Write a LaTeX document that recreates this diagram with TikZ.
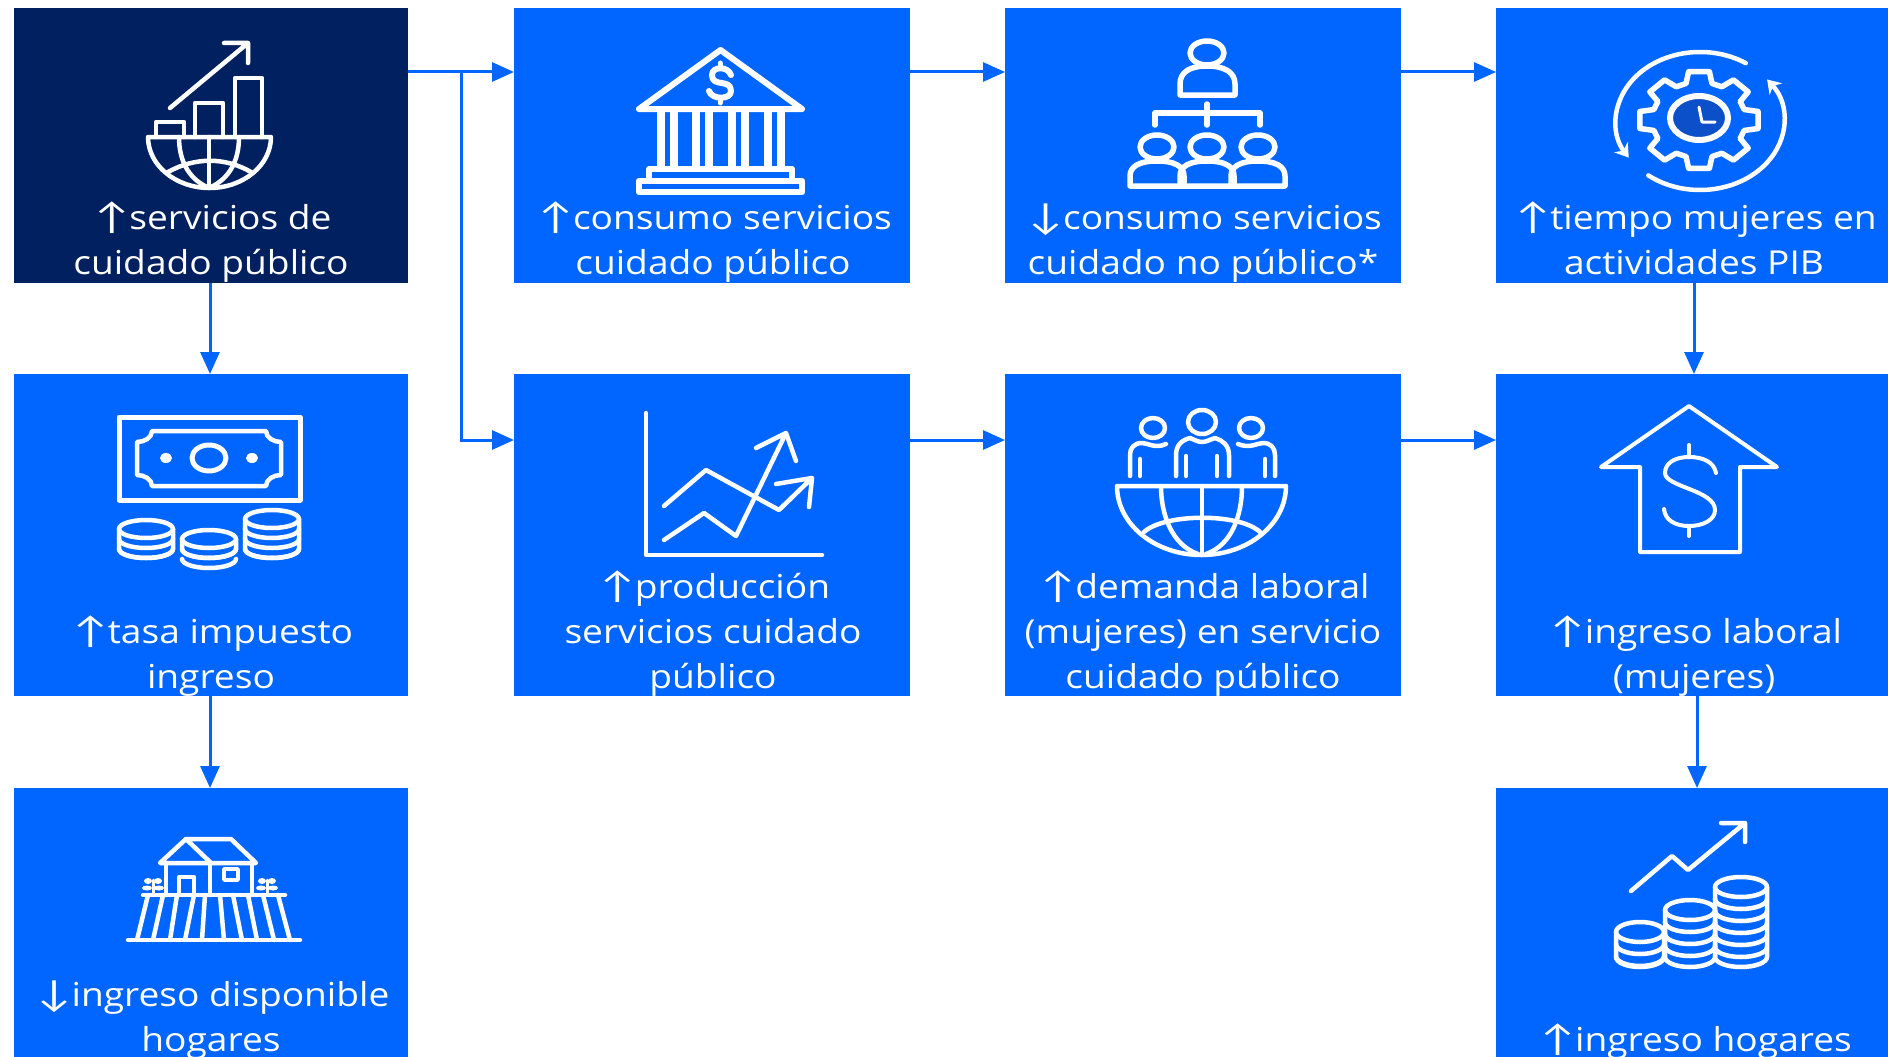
\documentclass[tikz,border=0pt]{standalone}
\usepackage{fontspec}
\usetikzlibrary{arrows.meta}
\setmainfont[FakeStretch=1.125]{Open Sans}
\newfontfamily\arrowfont[FakeStretch=1.25]{Carlito}
\definecolor{boxblue}{HTML}{0066FF}
\definecolor{navy}{HTML}{002060}
\definecolor{clockblue}{HTML}{0B4FC9}
\newcommand{\upa}{{\arrowfont\fontsize{38}{45}\selectfont ↑}\kern-4pt}
\newcommand{\dna}{{\arrowfont\fontsize{38}{45}\selectfont ↓}\kern-4pt}
\newcommand{\coinstack}[6]{% cx, top-centre y, rx, ry, bottom-centre y, layer step
  \draw[icon] (#1,#2) ellipse [x radius=#3, y radius=#4];
  \draw[icon] (#1-#3,#2) -- (#1-#3,#5) arc [start angle=180,end angle=0,x radius=#3,y radius=#4] -- (#1+#3,#2);
  \pgfmathsetmacro{\ystart}{#2+#6}
  \pgfmathsetmacro{\ynext}{#2+2*#6}
  \foreach \yy in {\ystart,\ynext,...,#5}{
    \draw[icon] (#1-#3,\yy) arc [start angle=180,end angle=0,x radius=#3,y radius=#4];
  }
}
\tikzset{
  x=1pt,y=-1pt,
  box/.style={rectangle,fill=boxblue,draw=none,inner sep=0pt,minimum width=#1,anchor=north west},
  box/.default=396pt,
  lab/.style={text=white,align=center,anchor=base,inner sep=0pt,font=\fontsize{33}{45}\selectfont},
  conn/.style={draw=boxblue,line width=3pt,-{Triangle[length=22pt,width=19pt]}},
  icon/.style={draw=white,line width=4.5pt,line join=round,line cap=round},
}
\begin{document}
\begin{tikzpicture}
\useasboundingbox (0,0) rectangle (1888,1057);
% boxes
\node[box=394pt,minimum height=275pt,fill=navy] (b1) at (14,8) {};
\node[box=396pt,minimum height=275pt] (b2) at (514,8) {};
\node[box=396pt,minimum height=275pt] (b3) at (1005,8) {};
\node[box=392pt,minimum height=275pt] (b4) at (1496,8) {};
\node[box=394pt,minimum height=322pt] (b5) at (14,374) {};
\node[box=396pt,minimum height=322pt] (b6) at (514,374) {};
\node[box=396pt,minimum height=322pt] (b7) at (1005,374) {};
\node[box=392pt,minimum height=322pt] (b8) at (1496,374) {};
\node[box=394pt,minimum height=269pt] (b9) at (14,788) {};
\node[box=392pt,minimum height=269pt] (b10) at (1496,788) {};
% routing guides
\coordinate (r1) at (0,72);
\coordinate (r2) at (0,440);
\coordinate (j) at (461,72);
\coordinate (v1) at (210,0);
\coordinate (v4) at (1694,0);
\coordinate (v8) at (1697,0);
% connectors
\draw[conn] (b1.east |- r1) -- (b2.west |- r1);
\draw[conn] (b2.east |- r1) -- (b3.west |- r1);
\draw[conn] (b3.east |- r1) -- (b4.west |- r1);
\draw[conn] (j) |- (b6.west |- r2);
\draw[conn] (b6.east |- r2) -- (b7.west |- r2);
\draw[conn] (b7.east |- r2) -- (b8.west |- r2);
\draw[conn] (b1.south -| v1) -- (b5.north -| v1);
\draw[conn] (b5.south -| v1) -- (b9.north -| v1);
\draw[conn] (b4.south -| v4) -- (b8.north -| v4);
\draw[conn] (b8.south -| v8) -- (b10.north -| v8);
% labels (anchored on the baseline of the last line)
\node[lab] (l1) at (211,274.5) {\upa servicios de\\cuidado público};
\node[lab] (l2) at (713,274.5) {\upa consumo servicios\\cuidado público};
\node[lab] (l3) at (1203,274.5) {\dna consumo servicios\\cuidado no público*};
\node[lab] (l4) at (1694,274.5) {\upa tiempo mujeres en\\actividades PIB};
\node[lab] (l5) at (211,688.5) {\upa tasa impuesto\\ingreso};
\node[lab] (l6) at (713,688.5) {\upa producción\\servicios cuidado\\público};
\node[lab] (l7) at (1203,688.5) {\upa demanda laboral\\(mujeres) en servicio\\cuidado público};
\node[lab] (l8) at (1694,688.5) {\upa ingreso laboral\\(mujeres)};
\node[lab] (l9) at (211,1051.5) {\dna ingreso disponible\\hogares};
\node[lab] (l10) at (1694,1051.5) {\upa ingreso hogares};
% icon 1: bars on globe
\draw[icon] (170,108) -- (248,43) (224,43) -- (248,43) -- (248,63);
\draw[icon] (156,137) -- (156,122) -- (184,122) -- (184,137);
\draw[icon] (195,137) -- (195,103) -- (223,103) -- (223,137);
\draw[icon] (235,137) -- (235,78) -- (262,78) -- (262,137);
\draw[icon] (148,137) -- (271,137) arc [start angle=0,end angle=180,x radius=61.5,y radius=51] -- cycle;
\draw[icon] (209,137) -- (209,188);
\draw[icon] (179,137) .. controls (179,160) and (188,178) .. (207,187);
\draw[icon] (239,137) .. controls (239,160) and (230,178) .. (211,187);
\draw[icon] (168,172) .. controls (195,157) and (225,157) .. (251,172);
% icon 2: bank
\draw[icon,line width=6pt] (639,109) -- (720.5,50) -- (802,109) -- cycle;
\foreach \xa/\xb in {661/674,696/709,732/745,768/781}{
  \draw[icon,line width=8pt,line cap=butt] (\xa,112) -- (\xa,166) (\xb,112) -- (\xb,166);
}
\draw[icon,line width=6pt] (649,178) -- (649,169) -- (792,169) -- (792,178);
\draw[icon,line width=6.5pt] (639,181) rectangle (802,192);
\draw[icon,line width=6pt] (731,75) .. controls (728,66) and (712,66) .. (712,75) .. controls (712,88) and (731,78) .. (731,91) .. controls (731,100) and (712,100) .. (709,91);
\draw[icon,line width=5pt] (720,63) -- (720,68) (720,98) -- (720,103);
% icon 3: hierarchy
\draw[icon,line width=5.5pt] (1207,53) ellipse [x radius=17, y radius=12];
\draw[icon,line width=5.5pt] (1180,95) -- (1180,84) .. controls (1180,72) and (1190,66) .. (1207,66) .. controls (1224,66) and (1235,72) .. (1235,84) -- (1235,95) -- cycle;
\draw[icon,line width=5.5pt] (1155,125) -- (1155,113) -- (1260,113) -- (1260,125) (1207,104) -- (1207,125);
\foreach \c in {1157,1207,1258}{
  \draw[icon,line width=5.5pt] (\c,147) ellipse [x radius=17, y radius=12];
  \draw[icon,line width=5.5pt] (\c-27,186) -- (\c-27,176) .. controls (\c-27,166) and (\c-17,161) .. (\c,161) .. controls (\c+17,161) and (\c+27,166) .. (\c+27,176) -- (\c+27,186) -- cycle;
}
% icon 4: gear and clock
\draw[icon,line width=5.5pt] ({1699+47*cos(-16)},{120+38*sin(-16)})
  \foreach \a in {0,45,...,315}{
    -- ({1699+47*cos(\a-16)},{120+38*sin(\a-16)})
    -- ({1699+60*cos(\a-10)},{120+49*sin(\a-10)})
    -- ({1699+60*cos(\a+10)},{120+49*sin(\a+10)})
    -- ({1699+47*cos(\a+16)},{120+38*sin(\a+16)})
  } -- cycle;
\draw[icon,line width=6pt,fill=clockblue] (1699,118) ellipse [x radius=29, y radius=22];
\draw[icon,line width=3pt] (1699,107) -- (1702,122) -- (1715,122);
\draw[icon,-{Stealth[length=13pt,width=17pt]}] ({1700+84*cos(303)},{121+69*sin(303)}) arc [start angle=303,end angle=148,x radius=84,y radius=69];
\draw[icon,-{Stealth[length=13pt,width=17pt]}] ({1700+84*cos(128)},{121+69*sin(128)}) arc [start angle=128,end angle=-37,x radius=84,y radius=69];
% icon 5: banknote and coins
\draw[icon,line width=5pt] (119,417) rectangle (300,500);
\draw[icon] (152,431) -- (266,431) .. controls (266,438) and (274,442) .. (281,442) -- (281,475) .. controls (274,475) and (266,479) .. (266,486) -- (152,486) .. controls (152,479) and (144,475) .. (137,475) -- (137,442) .. controls (144,442) and (152,438) .. (152,431) -- cycle;
\draw[icon,line width=5pt] (209,458) ellipse [x radius=17, y radius=13];
\fill[white] (166,458) ellipse [x radius=6, y radius=5];
\fill[white] (252,458) ellipse [x radius=6, y radius=5];
\coinstack{146}{529}{27}{9}{549}{10}
\coinstack{209}{539}{27}{9}{549}{10}
\coinstack{272}{519}{27}{9}{549}{10}
% icon 6: chart
\draw[icon] (646,413) -- (646,555) -- (822,555);
\draw[icon] (664,506) -- (706,470) -- (779,510) -- (812,478) (776,484) -- (812,478) -- (809,507);
\draw[icon] (664,540) -- (704,513) -- (736,536) -- (786,433) (756,448) -- (786,433) -- (796,461);
% icon 7: people on globe
\draw[icon] (1117,486) -- (1286,486) arc [start angle=0,end angle=180,x radius=84.5,y radius=69] -- cycle;
\draw[icon] (1202,486) -- (1202,555);
\draw[icon] (1161,486) .. controls (1161,515) and (1172,545) .. (1198,554);
\draw[icon] (1242,486) .. controls (1242,515) and (1232,545) .. (1206,554);
\draw[icon] (1144,532) .. controls (1165,513) and (1240,513) .. (1260,532);
\draw[icon] (1153,428) ellipse [x radius=12, y radius=10];
\draw[icon] (1202,422) ellipse [x radius=14, y radius=12];
\draw[icon] (1251,428) ellipse [x radius=12, y radius=10];
\draw[icon] (1176,476) -- (1176,455) .. controls (1176,445) and (1182,440) .. (1190,438) .. controls (1195,440) and (1198,442) .. (1202,442) .. controls (1206,442) and (1209,440) .. (1215,438) .. controls (1222,440) and (1229,445) .. (1229,455) -- (1229,476);
\draw[icon] (1186,456) -- (1186,476) (1217,456) -- (1217,476);
\draw[icon] (1130,476) -- (1130,455) .. controls (1130,448) and (1134,443) .. (1142,443) .. controls (1148,443) and (1155,449) .. (1166,444);
\draw[icon] (1140,459) -- (1140,476);
\draw[icon] (1275,476) -- (1275,455) .. controls (1275,448) and (1271,443) .. (1263,443) .. controls (1257,443) and (1250,449) .. (1238,444);
\draw[icon] (1265,459) -- (1265,476);
% icon 8: house arrow with dollar
\draw[icon,line width=4pt] (1689,406) -- (1777,467) -- (1740,467) -- (1740,552) -- (1640,552) -- (1640,467) -- (1601,467) -- cycle;
\draw[icon,line width=4pt] (1716,473) .. controls (1714,462) and (1703,457) .. (1689,457) .. controls (1675,457) and (1665,463) .. (1665,473) .. controls (1665,487) and (1715,490) .. (1715,510) .. controls (1715,520) and (1703,526) .. (1689,526) .. controls (1675,526) and (1665,520) .. (1664,509);
\draw[icon,line width=4pt] (1689,445) -- (1689,457) (1689,526) -- (1689,536);
% icon 9: farm house
\draw[icon] (128,940) -- (300,940) (143,895) -- (285,895);
\foreach \xb/\xt in {137/148,153/163,170/177,185/194,202/205,224/220,242/233,257/248,274/263,290/278}{
  \draw[icon] (\xb,940) -- (\xt,895);
}
\draw[icon] (160,863) -- (186,839) -- (231,839) -- (256,863) -- cycle (186,839) -- (211,863);
\draw[icon] (166,863) -- (166,895) (252,863) -- (252,895) (210,863) -- (210,895);
\draw[icon] (179,895) -- (179,877) -- (194,877) -- (194,895);
\draw[icon,line width=3.5pt] (224,869) rectangle (238,880);
\foreach \c in {153,267}{
  \draw[icon,line width=3pt] (\c,880) -- (\c,893);
  \fill[white] (\c-5,881) ellipse [x radius=4, y radius=3];
  \fill[white] (\c+5,881) ellipse [x radius=4, y radius=3];
  \fill[white] (\c-6,888) ellipse [x radius=5, y radius=2.5];
  \fill[white] (\c+6,888) ellipse [x radius=5, y radius=2.5];
}
% icon 10: coins with trend
\draw[icon] (1631,891) -- (1672,856) -- (1688,870) -- (1745,823) (1721,823) -- (1745,823) -- (1745,842);
\coinstack{1640}{932}{24}{10}{957}{12}
\coinstack{1690}{910}{25}{10}{957}{12}
\coinstack{1741}{887}{26}{10}{957}{12}
\end{tikzpicture}
\end{document}
